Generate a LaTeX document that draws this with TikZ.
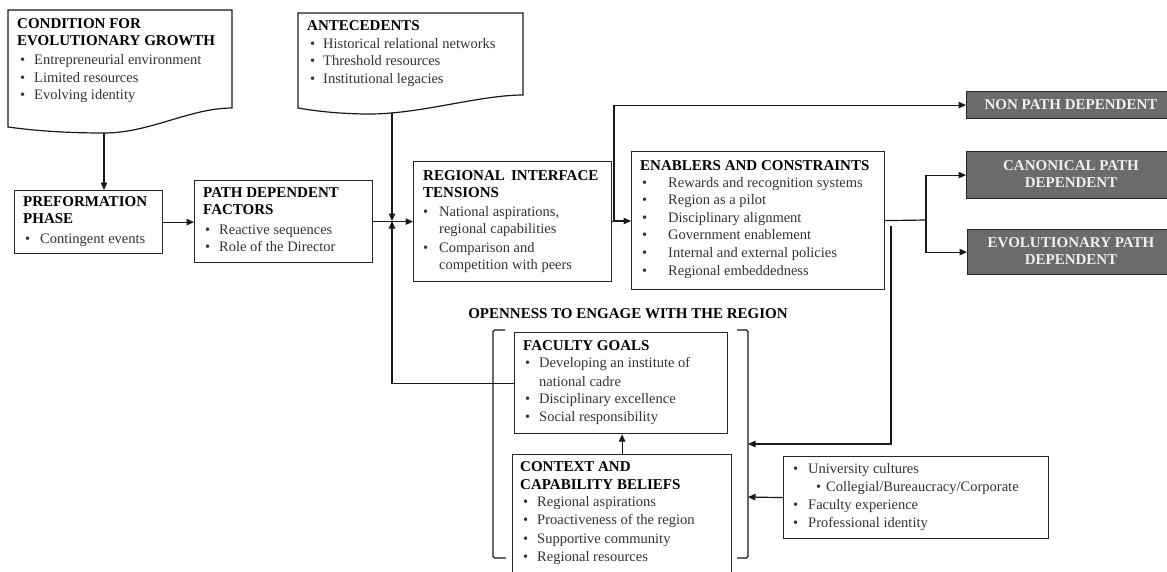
\documentclass[tikz,border=0pt]{standalone}
\usepackage{fontspec}
\setmainfont{Liberation Serif}
\usetikzlibrary{arrows.meta}
\tikzset{
  box/.style={draw=black!85, line width=1.2pt, rectangle, inner sep=0pt, anchor=north west},
  gbox/.style={box, fill=black!58},
  ttlst/.style={anchor=base west, inner sep=0pt, font=\fontsize{15}{17}\selectfont\bfseries, text=black},
  itmst/.style={anchor=base west, inner sep=0pt, font=\fontsize{14.5}{17}\selectfont, text=black!80},
  gtxt/.style={anchor=base, inner sep=0pt, font=\fontsize{15}{17}\selectfont\bfseries, text=white!94!black},
  conn/.style={line width=1.2pt, draw=black!90},
  arr/.style={conn, -{Triangle[length=7.5pt,width=6.5pt]}},
}
\newcommand\ttl[4]{\node[ttlst] (#1) at (#2,#3) {#4};}
\newcommand\bitem[5]{\node[itmst] (#1) at (#2,#3) {\makebox[#4pt][l]{\textbullet}#5};}
\newcommand\contline[4]{\node[itmst] (#1) at (#2,#3) {#4};}
\begin{document}
\begin{tikzpicture}[x=1pt,y=-1pt]
\useasboundingbox (0,0) rectangle (1167,571);
\fill[white] (0,0) rectangle (1167,571);
\clip (0,0) rectangle (1167,571);

% ---- document shapes
\draw[conn] (8,127) -- (8,10) -- (232,10) -- (232,108)
  .. controls (190,108) and (150,133) .. (104,133)
  .. controls (60,133) and (30,130) .. (8,127) -- cycle;
\coordinate (condb) at (104,133);
\ttl{c1}{17}{28}{CONDITION FOR}
\ttl{c2}{17}{45}{EVOLUTIONARY GROWTH}
\bitem{c3}{20}{64}{14}{Entrepreneurial environment}
\bitem{c4}{20}{82}{14}{Limited resources}
\bitem{c5}{20}{99}{14}{Evolving identity}

\draw[conn] (298,108) -- (298,13) -- (523,13) -- (523,95)
  .. controls (480,95) and (420,114) .. (370,114)
  .. controls (340,114) and (315,111) .. (298,108) -- cycle;
\coordinate (antb) at (392,113);
\ttl{a1}{307}{30}{ANTECEDENTS}
\bitem{a2}{310}{48}{13}{Historical relational networks}
\bitem{a3}{310}{65.5}{13}{Threshold resources}
\bitem{a4}{310}{83}{13}{Institutional legacies}

% ---- boxes
\node[box, minimum width=148pt, minimum height=63pt] (pre) at (14,190) {};
\ttl{p1}{23}{206}{PREFORMATION}
\ttl{p2}{23}{223}{PHASE}
\bitem{p3}{25}{243}{15}{Contingent events}

\node[box, minimum width=178pt, minimum height=82pt] (pdf) at (194,180) {};
\ttl{f1}{203}{197}{PATH DEPENDENT}
\ttl{f2}{203}{214}{FACTORS}
\bitem{f3}{205}{234}{14}{Reactive sequences}
\bitem{f4}{205}{251}{14}{Role of the Director}

\node[box, minimum width=198pt, minimum height=120pt] (reg) at (413,161) {};
\ttl{r1}{423}{180}{REGIONAL\ \,INTERFACE}
\ttl{r2}{423}{197}{TENSIONS}
\bitem{r3}{423}{216}{16}{National aspirations,}
\contline{r4}{439}{233}{regional capabilities}
\bitem{r5}{423}{252}{16}{Comparison and}
\contline{r6}{439}{269}{competition with peers}

\node[box, minimum width=253pt, minimum height=138pt] (enb) at (631,151) {};
\ttl{e1}{640}{170}{ENABLERS AND CONSTRAINTS}
\bitem{e2}{642}{187}{26}{Rewards and recognition systems}
\bitem{e3}{642}{204}{26}{Region as a pilot}
\bitem{e4}{642}{222}{26}{Disciplinary alignment}
\bitem{e5}{642}{239}{26}{Government enablement}
\bitem{e6}{642}{257}{26}{Internal and external policies}
\bitem{e7}{642}{275}{26}{Regional embeddedness}

\node[gbox, minimum width=210pt, minimum height=27pt] (non) at (966,91) {};
\node[gtxt] (n1) at (1071,109) {NON PATH DEPENDENT};
\node[gbox, minimum width=210pt, minimum height=47pt] (can) at (966,151) {};
\node[gtxt] (n2) at (1071,170) {CANONICAL PATH};
\node[gtxt] (n3) at (1071,187) {DEPENDENT};
\node[gbox, minimum width=210pt, minimum height=45pt] (evo) at (967,229) {};
\node[gtxt] (n4) at (1071,247) {EVOLUTIONARY PATH};
\node[gtxt] (n5) at (1071,264) {DEPENDENT};

\node[ttlst, anchor=base] (open) at (628,318) {OPENNESS TO ENGAGE WITH THE REGION};
\draw[conn, rounded corners=1.5pt] (505,330) -- (493,330) -- (493,558) -- (506,558);
\draw[conn, rounded corners=1.5pt] (737,330) -- (748,330) -- (748,558) -- (737,558);
\coordinate (brR1) at (748,444);
\coordinate (brR2) at (748,497);

\node[box, minimum width=213pt, minimum height=101pt] (fac) at (514,332) {};
\ttl{g1}{523}{350}{FACULTY GOALS}
\bitem{g2}{525}{367}{14}{Developing an institute of}
\contline{g3}{539}{386}{national cadre}
\bitem{g4}{525}{403}{14}{Disciplinary excellence}
\bitem{g5}{525}{421}{14}{Social responsibility}

\node[box, minimum width=219pt, minimum height=136pt] (ctx) at (512,454) {};
\ttl{x1}{520}{471}{CONTEXT AND}
\ttl{x2}{520}{489}{CAPABILITY BELIEFS}
\bitem{x3}{523}{506}{14}{Regional aspirations}
\bitem{x4}{523}{524}{14}{Proactiveness of the region}
\bitem{x5}{523}{543}{14}{Supportive community}
\bitem{x6}{523}{561}{14}{Regional resources}

\node[box, minimum width=265pt, minimum height=82pt] (uni) at (783,456) {};
\bitem{u1}{793}{473}{15}{University cultures}
\bitem{u2}{816}{491}{10}{Collegial/Bureaucracy/Corporate}
\bitem{u3}{793}{509}{15}{Faculty experience}
\bitem{u4}{793}{527}{15}{Professional identity}

% ---- connectors
\draw[arr] (condb) -- (condb |- pre.north);
\draw[arr] (pre.east) -- (pre.east -| pdf.west);
\coordinate (j) at (392,221);
\draw[arr] (pdf.east) -- (pdf.east -| reg.west);
\draw[arr] (antb) -- (j);
\draw[arr] (fac.west) -| (j);
\coordinate (s1) at (614,221);
\draw[conn] (reg.east) -- (s1);
\draw[arr] (s1) -- (s1 -| enb.west);
\draw[arr] (s1) |- (non.west);
\coordinate (s2) at (926,220);
\draw[conn] (enb.east) -- (s2);
\draw[arr] (s2) |- (can.west);
\draw[arr] (s2) |- (evo.west);
\coordinate (s3) at (891,226);
\draw[arr] (s3) |- (brR1);
\draw[arr] (uni.west) -- (brR2);
\draw[arr] (ctx.north) -- (ctx.north |- fac.south);
\end{tikzpicture}
\end{document}
